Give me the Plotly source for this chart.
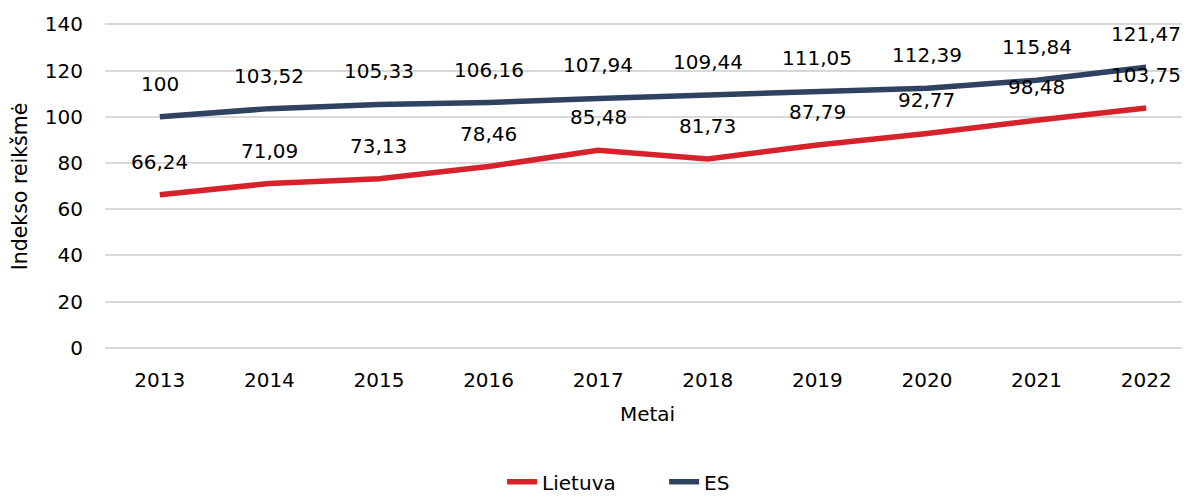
import plotly.graph_objects as go

years = ["2013", "2014", "2015", "2016", "2017", "2018", "2019", "2020", "2021", "2022"]
lietuva = [66.24, 71.09, 73.13, 78.46, 85.48, 81.73, 87.79, 92.77, 98.48, 103.75]
es = [100, 103.52, 105.33, 106.16, 107.94, 109.44, 111.05, 112.39, 115.84, 121.47]

RED = "#d7222b"
NAVY = "#2f4262"
FONT = "DejaVu Sans"
FS = 20

def fmt(v):
    if float(v).is_integer():
        return str(int(v))
    return f"{v:.2f}".replace(".", ",")

fig = go.Figure()
fig.add_trace(go.Scatter(x=years, y=lietuva, mode="lines", name="Lietuva",
                         line=dict(color=RED, width=5.5)))
fig.add_trace(go.Scatter(x=years, y=es, mode="lines", name="ES",
                         line=dict(color=NAVY, width=5.5)))

for series in (lietuva, es):
    for i, v in enumerate(series):
        fig.add_annotation(x=i, y=v, xref="x", yref="y", text=fmt(v), showarrow=False,
                           yshift=33, font=dict(family=FONT, size=FS, color="#000000"))

fig.update_layout(
    width=1182, height=490,
    margin=dict(l=97, r=0, t=15, b=148, autoexpand=False),
    paper_bgcolor="white", plot_bgcolor="white",
    font=dict(family=FONT, size=FS, color="#000000"),
    showlegend=True,
    legend=dict(orientation="h", x=0.366, xanchor="left",
                yref="container", y=0.033, yanchor="middle",
                font=dict(family=FONT, size=FS), entrywidth=117),
    xaxis=dict(type="category", range=[-0.5, 9.4], showgrid=False, showline=False,
               ticks="", automargin=False, ticklabelstandoff=16,
               title=dict(text="Metai", font=dict(family=FONT, size=FS), standoff=15),
               tickfont=dict(family=FONT, size=FS)),
    yaxis=dict(range=[-1, 140.6], tickvals=[0, 20, 40, 60, 80, 100, 120, 140],
               showgrid=True, gridcolor="#d9d9d9", gridwidth=1.5,
               zeroline=False, showline=False, ticks="", automargin=False,
               ticklabelstandoff=21,
               title=dict(text="Indekso reikšmė", font=dict(family=FONT, size=20.5), standoff=14),
               tickfont=dict(family=FONT, size=FS)),
)

fig.write_html("out.html")
